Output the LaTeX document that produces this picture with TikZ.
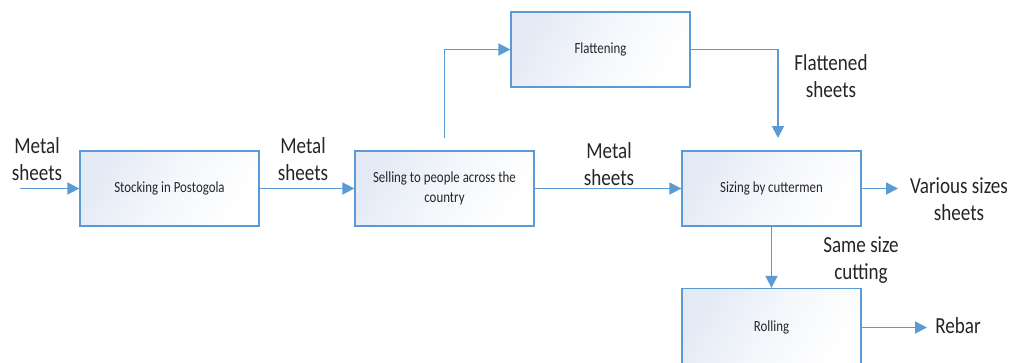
\documentclass[tikz,border=0pt]{standalone}
\usepackage{fontspec}
\setmainfont[FakeStretch=0.83]{Carlito}
\usetikzlibrary{arrows.meta}
\definecolor{lineblue}{HTML}{5B9BD5}
\definecolor{boxfill}{HTML}{E4EAF5}
\definecolor{txt}{HTML}{262626}
\tikzset{
  procbox/.style={draw=lineblue, line width=1.3pt, minimum width=179pt, minimum height=75pt,
    inner sep=0pt, top color=boxfill, bottom color=white, middle color=white!60!boxfill, shading angle=60,
    font=\fontsize{15.5}{20}\selectfont, text=txt, align=center},
  flow/.style={draw=lineblue, line width=1.8pt, -{Triangle[length=12pt,width=12pt]}},
  lbl/.style={font=\fontsize{23}{27}\selectfont, text=txt, align=center, anchor=base, inner sep=0pt}
}
\begin{document}
\begin{tikzpicture}[x=1pt,y=-1pt]
\clip (0,0) rectangle (1013,362);
\fill[white] (0,0) rectangle (1013,362);
\node[procbox] (stock) at (169.5,188.5) {Stocking in Postogola};
\node[procbox] (sell) at (444.5,188.5) {Selling to people across the\\country};
\node[procbox] (flat) at (600.5,49.5) {Flattening};
\node[procbox] (size) at (771.5,188.5) {Sizing by cuttermen};
\node[procbox, minimum height=78pt] (roll) at (771.5,327.5) {Rolling};
\coordinate (in) at (20,188.5);
\coordinate (up) at (444.5,138);
\coordinate (flatin) at (778,138);
\coordinate (various) at (898,188.5);
\coordinate (rebar) at (927,327.5);
\draw[flow] (in) -- (stock);
\draw[flow] (stock) -- (sell);
\draw[flow] (sell) -- (size);
\draw[flow] (up) |- (flat);
\draw[flow] (flat) -| (flatin);
\draw[flow] (size) -- (various);
\draw[flow] (size) -- (roll);
\draw[flow] (roll) -- (rebar);
\node[lbl] (l1) at (37,180) {Metal\\sheets};
\node[lbl] (l2) at (303,180) {Metal\\sheets};
\node[lbl] (l3) at (609,185) {Metal\\sheets};
\node[lbl] (l4) at (831,97) {Flattened\\sheets};
\node[lbl] (l5) at (959,220) {Various sizes\\sheets};
\node[lbl] (l6) at (861,279) {Same size\\cutting};
\node[lbl] (l7) at (958,333) {Rebar};
\end{tikzpicture}
\end{document}
